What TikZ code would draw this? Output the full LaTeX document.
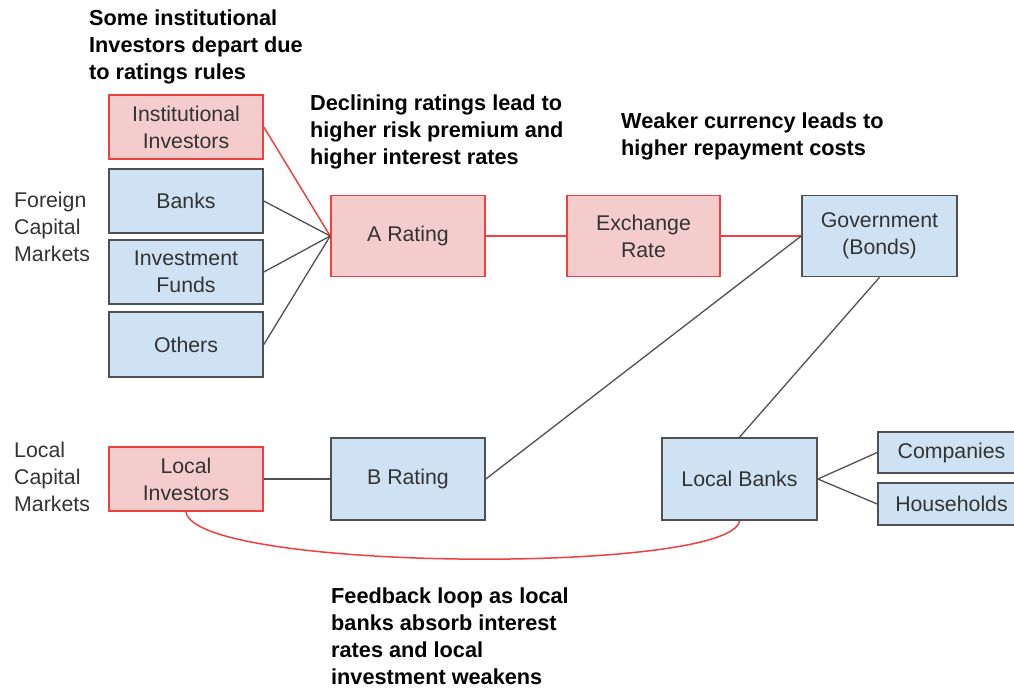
\documentclass[tikz,border=0pt]{standalone}
\usepackage{fontspec}
\setmainfont{Liberation Sans}
\definecolor{rfill}{HTML}{F4CCCC}
\definecolor{rline}{HTML}{F04040}
\definecolor{bfill}{HTML}{CFE2F3}
\definecolor{bline}{HTML}{505050}
\definecolor{txt}{HTML}{333333}
\tikzset{
  box/.style={line width=1.6pt, align=center, inner sep=0pt, text=txt,
    font=\fontsize{21.3}{27}\selectfont},
  rbox/.style={box, draw=rline, fill=rfill},
  bbox/.style={box, draw=bline, fill=bfill},
  note/.style={align=left, inner sep=0pt, anchor=north west, text=black,
    font=\fontsize{21.7}{27}\selectfont\bfseries},
  side/.style={align=left, inner sep=0pt, anchor=north west, text=txt,
    font=\fontsize{21.3}{27}\selectfont},
  blink/.style={draw=bline, line width=1.3pt},
  rlink/.style={draw=rline, line width=1.5pt},
}
\begin{document}
\begin{tikzpicture}[x=1pt,y=-1pt]
\useasboundingbox (0,0) rectangle (1014,688);
\clip (0,0) rectangle (1014,688);
% boxes
\node[rbox, minimum width=154, minimum height=64] (ii) at (186,127) {Institutional\\Investors};
\node[bbox, minimum width=154, minimum height=64] (banks) at (186,201) {Banks};
\node[bbox, minimum width=154, minimum height=64] (funds) at (186,272) {Investment\\Funds};
\node[bbox, minimum width=154, minimum height=65] (others) at (186,344.5) {Others};
\node[rbox, minimum width=154, minimum height=81] (arat) at (408,236) {A Rating};
\node[rbox, minimum width=153, minimum height=81] (exr) at (643.5,236) {Exchange\\Rate};
\node[bbox, minimum width=155, minimum height=81] (gov) at (879.5,236) {Government\\(Bonds)};
\node[rbox, minimum width=154, minimum height=64] (li) at (186,479) {Local\\Investors};
\node[bbox, minimum width=154, minimum height=82] (brat) at (408,479) {B Rating};
\node[bbox, minimum width=155, minimum height=82] (lb) at (739.5,479) {Local Banks};
\node[bbox, minimum width=147, minimum height=41] (comp) at (951.5,452.5) {Companies};
\node[bbox, minimum width=147, minimum height=42] (hh) at (951.5,504) {Households};
% connectors
\draw[rlink] (ii.east) -- (arat.west);
\draw[blink] (banks.east) -- (arat.west);
\draw[blink] (funds.east) -- (arat.west);
\draw[blink] (others.east) -- (arat.west);
\draw[rlink] (arat.east) -- (exr.west);
\draw[rlink] (exr.east) -- (gov.west);
\draw[blink] (brat.east) -- (gov.west);
\draw[blink] (gov.south) -- (lb.north);
\draw[blink] (li.east) -- (brat.west);
\draw[blink] (lb.east) -- (comp.west);
\draw[blink] (lb.east) -- (hh.west);
\draw[rlink] (li.south) .. controls +(8,60) and +(-8,54) .. (lb.south);
% texts
\node[side] (fcm) at (14,192) {Foreign\\Capital\\Markets};
\node[side] (lcm) at (14,442) {Local\\Capital\\Markets};
\node[note] (n1) at (89,10) {Some institutional\\Investors depart due\\to ratings rules};
\node[note] (n2) at (310,95) {Declining ratings lead to\\higher risk premium and\\higher interest rates};
\node[note] (n3) at (621,113) {Weaker currency leads to\\higher repayment costs};
\node[note] (n4) at (331,588) {Feedback loop as local\\banks absorb interest\\rates and local\\investment weakens};
\end{tikzpicture}
\end{document}
